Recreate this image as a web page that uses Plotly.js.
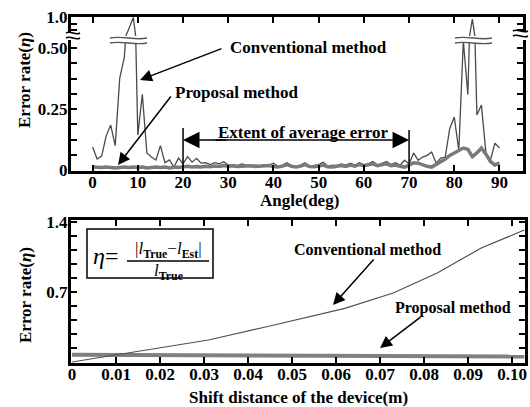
<!DOCTYPE html>
<html><head><meta charset="utf-8">
<script src="https://cdn.plot.ly/plotly-3.0.1.min.js"></script>
<style>html,body{margin:0;padding:0;background:#fff}#chart{width:530px;height:407px}</style>
</head><body><div id="chart"></div>
<script>
// ---------- data ----------
const angleDeg = [0,1,2,3,4,5,6,7,8,9,10,11,12,13,14,15,16,17,18,19,20,21,22,23,24,25,26,27,28,29,30,31,32,33,34,35,36,37,38,39,40,41,42,43,44,45,46,47,48,49,50,51,52,53,54,55,56,57,58,59,60,61,62,63,64,65,66,67,68,69,70,71,72,73,74,75,76,77,78,79,80,81,82,83,84,85,86,87,88,89,90];
const convAngle = [0.094,0.045,0.057,0.14,0.184,0.10,0.377,0.46,0.72,1.0,0.143,0.31,0.07,0.053,0.041,0.10,0.03,0.041,0.012,0.049,0.025,0.055,0.032,0.048,0.028,0.03,0.022,0.03,0.025,0.034,0.02,0.022,0.018,0.025,0.02,0.018,0.02,0.017,0.022,0.02,0.028,0.015,0.02,0.03,0.018,0.012,0.02,0.03,0.015,0.018,0.022,0.032,0.015,0.02,0.018,0.025,0.02,0.028,0.02,0.03,0.022,0.025,0.035,0.02,0.028,0.035,0.022,0.03,0.02,0.04,0.025,0.07,0.04,0.053,0.06,0.074,0.028,0.049,0.053,0.17,0.217,0.08,0.53,0.31,0.96,0.225,0.266,0.07,0.041,0.11,0.09];
const propAngle = [0.012,0.01,0.01,0.012,0.01,0.008,0.01,0.012,0.01,0.012,0.01,0.012,0.008,0.01,0.012,0.01,0.012,0.008,0.012,0.01,0.012,0.015,0.012,0.014,0.012,0.015,0.013,0.016,0.014,0.018,0.015,0.017,0.014,0.016,0.015,0.017,0.014,0.016,0.015,0.018,0.014,0.012,0.016,0.022,0.015,0.012,0.016,0.022,0.014,0.013,0.016,0.02,0.013,0.012,0.015,0.018,0.015,0.02,0.016,0.022,0.018,0.02,0.025,0.018,0.022,0.025,0.018,0.02,0.015,0.012,0.02,0.03,0.028,0.02,0.015,0.012,0.022,0.035,0.045,0.06,0.07,0.08,0.09,0.085,0.055,0.07,0.09,0.065,0.035,0.02,0.03];

const shiftM = [0,0.0125,0.031,0.044,0.062,0.073,0.083,0.093,0.1028];
const convShift = [0.0,0.087,0.22,0.35,0.537,0.69,0.89,1.14,1.32];
const propShift = [0.072,0.07,0.068,0.066,0.063,0.06,0.058,0.056,0.055];

const angleTicks = [0,10,20,30,40,50,60,70,80,90];
const shiftTicks = [0,0.01,0.02,0.03,0.04,0.05,0.06,0.07,0.08,0.09,0.10];
const shiftTickText = ['0','0.01','0.02','0.03','0.04','0.05','0.06','0.07','0.08','0.09','0.10'];
const etaTicksTop = [0,0.0625,0.125,0.1875,0.25,0.3125,0.375,0.4375,0.5];
const etaTicksTopText = ['0','','','','0.25','','','','0.50'];
const etaTicksUpper = [0.7,0.85,1.0];
const etaTicksUpperText = ['','','1.0'];
const etaTicksBottom = [0,0.14,0.28,0.42,0.56,0.7,0.84,0.98,1.12,1.26,1.4];
const etaTicksBottomText = ['','','','','','0.7','','','','','1.4'];

// ---------- helpers ----------
const W = 530, H = 407;
const px = x => x / W;
const py = y => 1 - y / H;
const FONT = "'Liberation Serif', 'Times New Roman', serif";
const tickFont = {family: FONT, size: 17, color: '#000', weight: 'bold'};

function wave(x0, y, w, h) {
  return [[x0, y], [x0 + w / 3, y - h], [x0 + 2 * w / 3, y + h], [x0 + w, y]];
}
function P(p) { return px(p[0]).toFixed(5) + ',' + py(p[1]).toFixed(5); }
function breakShapes(x0, yTop, w, gap, h, color, lw) {
  const a = wave(x0, yTop, w, h), b = wave(x0, yTop + gap, w, h);
  const fill = 'M' + P(a[0]) + ' C' + P(a[1]) + ' ' + P(a[2]) + ' ' + P(a[3]) +
    ' L' + P(b[3]) + ' C' + P(b[2]) + ' ' + P(b[1]) + ' ' + P(b[0]) + ' Z';
  const l1 = 'M' + P(a[0]) + ' C' + P(a[1]) + ' ' + P(a[2]) + ' ' + P(a[3]);
  const l2 = 'M' + P(b[0]) + ' C' + P(b[1]) + ' ' + P(b[2]) + ' ' + P(b[3]);
  return [
    {type: 'path', xref: 'paper', yref: 'paper', path: fill, fillcolor: '#fff', line: {width: 0}, layer: 'above'},
    {type: 'path', xref: 'paper', yref: 'paper', path: l1, line: {color: color, width: lw}, layer: 'above'},
    {type: 'path', xref: 'paper', yref: 'paper', path: l2, line: {color: color, width: lw}, layer: 'above'}
  ];
}
function arrow(hx, hy, tx, ty, size) {
  return {x: px(hx), y: py(hy), xref: 'paper', yref: 'paper', ax: tx - hx, ay: ty - hy,
    axref: 'pixel', ayref: 'pixel', text: '', showarrow: true, arrowhead: 2,
    arrowsize: size || 1.6, arrowwidth: 1.5, arrowcolor: '#000', standoff: 0};
}
function label(x, y, text, size, opts) {
  return Object.assign({x: px(x), y: py(y), xref: 'paper', yref: 'paper', text: text, showarrow: false,
    xanchor: 'center', yanchor: 'middle', font: {family: FONT, size: size, color: '#000', weight: 'bold'}}, opts || {});
}

// ---------- traces ----------
const traces = [
  {x: angleDeg, y: convAngle, xaxis: 'x', yaxis: 'y', mode: 'lines', line: {color: '#4a4a4a', width: 1.3}},
  {x: angleDeg, y: propAngle, xaxis: 'x', yaxis: 'y', mode: 'lines', line: {color: '#7a7a7a', width: 3.5}},
  {x: angleDeg, y: convAngle, xaxis: 'x2', yaxis: 'y2', mode: 'lines', line: {color: '#4a4a4a', width: 1.3}},
  {x: shiftM, y: propShift, xaxis: 'x3', yaxis: 'y3', mode: 'lines', line: {color: '#808080', width: 4}},
  {x: shiftM, y: convShift, xaxis: 'x3', yaxis: 'y3', mode: 'lines', line: {color: '#505050', width: 1.2}}
];

const axBase = {showgrid: false, zeroline: false, showline: true, linecolor: '#000', linewidth: 3,
  ticks: 'inside', ticklen: 6, tickwidth: 2, tickcolor: '#000', tickfont: tickFont, fixedrange: true};

const layout = {
  width: W, height: H, margin: {l: 0, r: 0, t: 0, b: 0}, showlegend: false,
  paper_bgcolor: '#fff', plot_bgcolor: '#fff',
  xaxis: Object.assign({}, axBase, {domain: [px(71), px(523)], range: [-4.78, 95.2], anchor: 'y',
    tickmode: 'array', tickvals: angleTicks, ticktext: angleTicks.map(String), ticklabelstandoff: -6}),
  yaxis: Object.assign({}, axBase, {domain: [py(171), py(40)], range: [-0.0041, 0.5328], anchor: 'x',
    mirror: 'ticks', tickmode: 'array', tickvals: etaTicksTop, ticktext: etaTicksTopText, ticklabelstandoff: -3}),
  xaxis2: Object.assign({}, axBase, {domain: [px(71), px(523)], range: [-4.78, 95.2], anchor: 'y2',
    side: 'top', showticklabels: false, tickmode: 'array', tickvals: angleTicks}),
  yaxis2: Object.assign({}, axBase, {domain: [py(36), py(17)], range: [0.55, 1.01], anchor: 'x2',
    mirror: 'ticks', tickmode: 'array', tickvals: etaTicksUpper, ticktext: etaTicksUpperText, ticklabelstandoff: -3}),
  xaxis3: Object.assign({}, axBase, {domain: [px(71), px(525)], range: [-0.000227, 0.10295], anchor: 'y3',
    mirror: 'ticks', tickmode: 'array', tickvals: shiftTicks, ticktext: shiftTickText, ticklabelstandoff: -6}),
  yaxis3: Object.assign({}, axBase, {domain: [py(363), py(220)], range: [-0.01, 1.42], anchor: 'x3',
    mirror: 'ticks', tickmode: 'array', tickvals: etaTicksBottom, ticktext: etaTicksBottomText, ticklabelstandoff: -3}),
  shapes: [].concat(
    breakShapes(66, 33, 14, 5, 3, '#000', 1.5),
    breakShapes(513, 31, 15, 5, 3, '#000', 1.5),
    breakShapes(110, 38, 37, 5, 2.5, '#555', 1.5),
    breakShapes(455, 38, 37, 5, 2.5, '#555', 1.5),
    [
      {type: 'line', xref: 'x', yref: 'paper', x0: 20, x1: 20, y0: py(128), y1: py(166), line: {color: '#000', width: 1.5}},
      {type: 'line', xref: 'x', yref: 'paper', x0: 70, x1: 70, y0: py(130), y1: py(166), line: {color: '#000', width: 1.5}},
      {type: 'rect', xref: 'paper', yref: 'paper', x0: px(87), x1: px(213), y0: py(278), y1: py(229), line: {color: '#000', width: 1.5}, fillcolor: 'rgba(0,0,0,0)'},
      {type: 'line', xref: 'paper', yref: 'paper', x0: px(127), x1: px(209), y0: py(261), y1: py(261), line: {color: '#000', width: 1.5}}
    ]
  ),
  annotations: [
    // axis titles
    label(25, 80, 'Error rate(<i>η</i>)', 17, {textangle: -90}),
    label(299, 201, 'Angle(deg)', 17),
    label(25, 295, 'Error rate(<i>η</i>)', 17, {textangle: -90}),
    label(298, 397, 'Shift distance of the device(m)', 17),
    // top panel texts
    label(308, 48, 'Conventional method', 17),
    arrow(140, 80, 223, 48),
    label(236, 93, 'Proposal method', 17),
    arrow(118, 165, 172, 95),
    label(303, 132, 'Extent of average error', 17),
    {x: 20, y: py(140), xref: 'x', yref: 'paper', ax: 45, ay: 0, axref: 'pixel', ayref: 'pixel', text: '', showarrow: true,
      arrowhead: 2, arrowsize: 2.2, arrowwidth: 1.5, arrowcolor: '#000', standoff: 0},
    {x: 70, y: py(140), xref: 'x', yref: 'paper', ax: -195, ay: 0, axref: 'pixel', ayref: 'pixel', text: '', showarrow: true,
      arrowhead: 2, arrowsize: 2.2, arrowwidth: 1.5, arrowcolor: '#000', standoff: 0},
    // bottom panel texts
    label(367, 249, 'Conventional method', 16),
    arrow(333, 305, 375, 258),
    label(453, 308, 'Proposal method', 16),
    arrow(380, 348, 422, 316),
    // formula
    label(105, 256, '<i>η</i>=', 24, {font: {family: FONT, size: 24, color: '#000'}}),
    label(168, 250, '|<i>l</i><sub><b>True</b></sub>−<i>l</i><sub><b>Est</b></sub>|', 17, {font: {family: FONT, size: 17, color: '#000'}}),
    label(168, 272, '<i>l</i><sub><b>True</b></sub>', 17, {font: {family: FONT, size: 17, color: '#000'}})
  ]
};

Plotly.newPlot('chart', traces, layout, {displayModeBar: false, staticPlot: true});
</script>
</body></html>
